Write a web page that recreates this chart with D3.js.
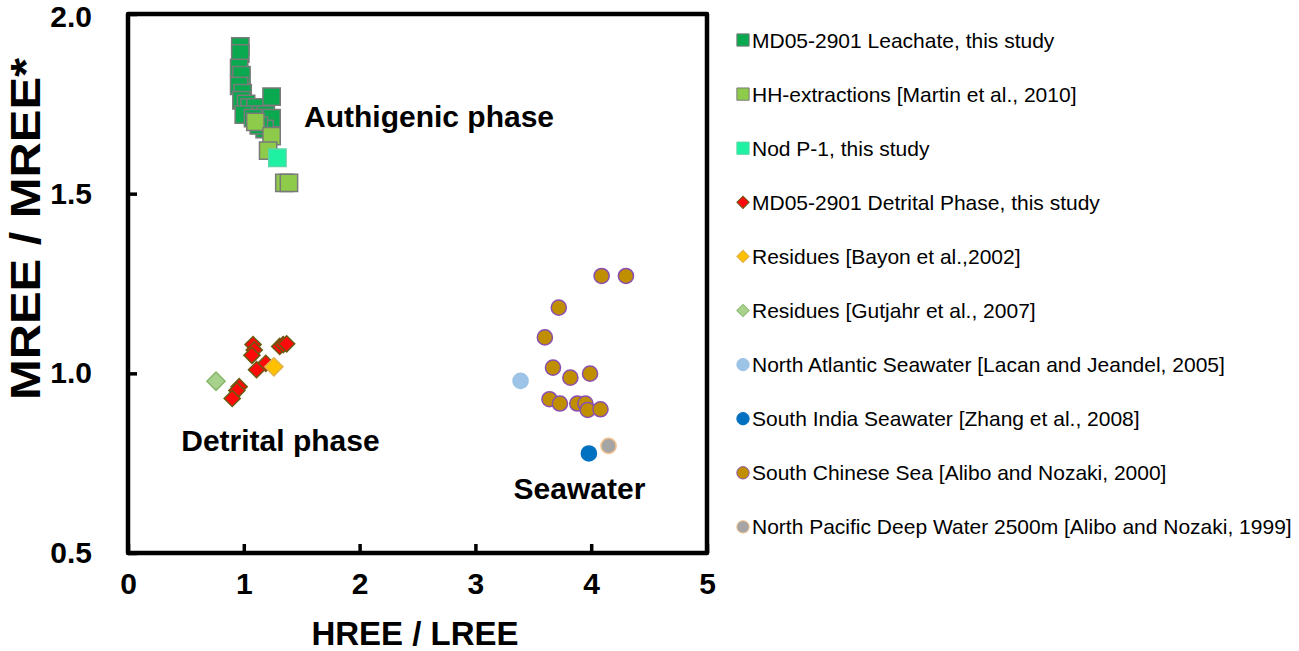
<!DOCTYPE html>
<html>
<head>
<meta charset="utf-8">
<script src="https://cdn.jsdelivr.net/npm/d3@7.9.0/dist/d3.min.js"></script>
<style>
  html,body{margin:0;padding:0;background:#fff;}
  svg{display:block;font-family:"Liberation Sans",Arial,sans-serif;}
  .tick text{font-weight:bold;font-size:30px;fill:#000;}
</style>
</head>
<body>
<svg id="chart" width="1299" height="651"></svg>
<script>
// values: [HREE/LREE, MREE/MREE*]
const leachate = [
  [0.97,1.91],[0.97,1.89],[0.96,1.85],[0.98,1.83],[0.96,1.80],[0.99,1.78],
  [0.98,1.76],[1.02,1.75],[1.05,1.74],[1.10,1.74],[1.00,1.72],[1.15,1.72],
  [1.19,1.72],[1.24,1.71],[1.24,1.77],[1.18,1.68],[1.08,1.71],[1.13,1.69]
];
const hhExtract = [[1.10,1.70],[1.24,1.66],[1.21,1.62],[1.35,1.53],[1.39,1.53]];
const nodP1     = [[1.29,1.60]];
const detrital  = [
  [1.08,1.08],[1.09,1.065],[1.07,1.05],[1.31,1.075],[1.34,1.08],[1.37,1.082],
  [1.19,1.028],[1.11,1.01],[0.96,0.963],[0.94,0.952],[0.90,0.93]
];
const bayon     = [[1.26,1.018]];
const gutjahr   = [[0.76,0.978]];
const nAtlantic = [[3.39,0.979]];
const sIndia    = [[3.98,0.777]];
const scs       = [
  [4.09,1.271],[4.30,1.271],[3.72,1.183],[3.60,1.10],[3.67,1.016],[3.82,0.988],
  [3.99,0.999],[3.64,0.928],[3.73,0.916],[3.88,0.916],[3.95,0.916],[3.97,0.898],[4.08,0.90]
];
const nPacific  = [[4.15,0.798]];

const xTicks = [0,1,2,3,4,5];
const yTicks = [0.5,1.0,1.5,2.0];

const series = [
  {name:'MD05-2901 Leachate, this study',                     data:leachate,  shape:'square',  size:300, fill:'#0aa84f', stroke:'#7a7a7a'},
  {name:'HH-extractions [Martin et al., 2010]',                data:hhExtract, shape:'square',  size:300, fill:'#8fcb4a', stroke:'#7a7a7a'},
  {name:'Nod P-1, this study',                                 data:nodP1,     shape:'square',  size:300, fill:'#1ef2a2', stroke:'#5ad6a8'},
  {name:'MD05-2901 Detrital Phase, this study',                data:detrital,  shape:'diamond', size:130, fill:'#ff0a0a', stroke:'#6b5a10'},
  {name:'Residues [Bayon et al.,2002]',                        data:bayon,     shape:'diamond', size:165, fill:'#ffc000', stroke:'#e0b050'},
  {name:'Residues [Gutjahr et al., 2007]',                     data:gutjahr,   shape:'diamond', size:165, fill:'#a8d18d', stroke:'#86b86a'},
  {name:'North Atlantic Seawater [Lacan and Jeandel, 2005]',   data:nAtlantic, shape:'circle',  size:180, fill:'#9dc3e6', stroke:'#9dc3e6'},
  {name:'South India Seawater [Zhang et al., 2008]',           data:sIndia,    shape:'circle',  size:180, fill:'#0070c0', stroke:'#0070c0'},
  {name:'South Chinese Sea [Alibo and Nozaki, 2000]',          data:scs,       shape:'circle',  size:180, fill:'#bf8f00', stroke:'#8a4fb0'},
  {name:'North Pacific Deep Water 2500m [Alibo and Nozaki, 1999]', data:nPacific, shape:'circle', size:180, fill:'#a5a5a5', stroke:'#f4c08a'}
];

const notes = [
  {text:'Authigenic phase', x:1.52, y:1.686},
  {text:'Detrital phase',   x:0.46, y:0.783},
  {text:'Seawater',         x:3.33, y:0.649}
];

const svg = d3.select('#chart');
const x = d3.scaleLinear().domain([0,5]).range([128,707]);
const y = d3.scaleLinear().domain([0.5,2]).range([553,14]);

// diamonds are squares turned by 45 degrees
const rot = {square:0, diamond:45, circle:0};
const symType = s => s==='circle' ? d3.symbolCircle : d3.symbolSquare;

// axes, ticks pointing inward
svg.append('g')
   .attr('transform',`translate(0,${y(0.5)})`)
   .call(d3.axisBottom(x).tickValues(xTicks).tickFormat(d3.format('d'))
           .tickSizeInner(-9).tickSizeOuter(0).tickPadding(20))
   .call(g=>g.select('.domain').remove())
   .call(g=>g.selectAll('line').attr('stroke','#000').attr('stroke-width',3.5));

svg.append('g')
   .attr('transform',`translate(${x(0)},0)`)
   .call(d3.axisLeft(y).tickValues(yTicks).tickFormat(d3.format('.1f'))
           .tickSizeInner(-9).tickSizeOuter(0).tickPadding(36))
   .call(g=>g.select('.domain').remove())
   .call(g=>g.selectAll('line').attr('stroke','#000').attr('stroke-width',3.5))
   // keep the top label inside the page
   .call(g=>g.selectAll('.tick text').filter(d=>d===2).attr('dy','0.42em'));

// frame
svg.append('rect')
   .attr('x',x(0)).attr('y',y(2))
   .attr('width',x(5)-x(0)).attr('height',y(0.5)-y(2))
   .attr('fill','none').attr('stroke','#000').attr('stroke-width',4.5)
   .attr('stroke-linejoin','round');

// points
series.forEach(s=>{
  svg.append('g').selectAll('path')
     .data(s.data)
     .enter().append('path')
       .attr('transform',d=>`translate(${x(d[0])},${y(d[1])}) rotate(${rot[s.shape]})`)
       .attr('d',d3.symbol().type(symType(s.shape)).size(s.size))
       .attr('fill',s.fill)
       .attr('stroke',s.stroke)
       .attr('stroke-width',1.5);
});

// annotations
svg.append('g').selectAll('text')
   .data(notes)
   .enter().append('text')
     .attr('x',d=>x(d.x)).attr('y',d=>y(d.y))
     .attr('font-size',30).attr('font-weight','bold')
     .text(d=>d.text);

// axis titles
svg.append('text')
   .attr('x',415).attr('y',645)
   .attr('text-anchor','middle').attr('font-size',33).attr('font-weight','bold')
   .text('HREE / LREE');
svg.append('text')
   .attr('transform','translate(40,229) rotate(-90)')
   .attr('text-anchor','middle').attr('font-size',42).attr('font-weight','bold')
   .attr('textLength',342).attr('lengthAdjust','spacingAndGlyphs')
   .text('MREE / MREE*');

// legend
const legend = svg.append('g').attr('transform','translate(743,40)');
const rows = legend.selectAll('g')
   .data(series)
   .enter().append('g')
     .attr('transform',(_,i)=>`translate(0,${i*54.1})`);
rows.append('path')
    .attr('transform',d=>`rotate(${rot[d.shape]})`)
    .attr('d',d=>d3.symbol().type(symType(d.shape)).size(d.shape==='circle'?120:d.shape==='diamond'?75:150)())
    .attr('fill',d=>d.fill).attr('stroke',d=>d.stroke).attr('stroke-width',1);
rows.append('text')
    .attr('x',9).attr('dy','0.36em')
    .attr('font-size',21)
    .text(d=>d.name);
</script>
</body>
</html>
